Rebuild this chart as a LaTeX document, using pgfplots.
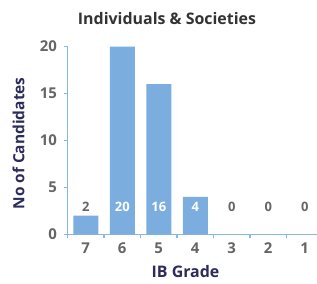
\documentclass[border=0pt]{standalone}
\usepackage{pgfplots}
\pgfplotsset{compat=1.18}
\usepackage{fontspec}
\setmainfont{Open Sans}
\definecolor{barblue}{HTML}{7BAEDE}
\definecolor{axblue}{HTML}{8AB8E4}
\definecolor{tickgray}{HTML}{666666}
\definecolor{navy}{HTML}{2C2C5C}
\definecolor{titlegray}{HTML}{333333}
\begin{document}
\begin{tikzpicture}[x=1bp,y=1bp]
\begin{axis}[
  at={(67.5bp,49.5bp)}, anchor=south west,
  scale only axis, width=255.5bp, height=188bp,
  xmin=-0.5, xmax=6.5, ymin=0, ymax=20,
  axis lines*=left,
  axis line style={axblue, line width=1.1pt},
  xtick={0,...,6}, xticklabels={7,6,5,4,3,2,1},
  minor xtick={-0.5,0.5,...,5.5},
  ytick={0,5,10,15,20},
  tick style={axblue, line width=1.1pt},
  major x tick style={draw=none},
  tick align=outside,
  major tick length=4bp, minor tick length=4bp,
  /pgf/number format/assume math mode=true,
  tick label style={font=\fontsize{15}{17}\selectfont\bfseries, text=tickgray},
  yticklabel style={xshift=-3bp},
  xticklabel style={yshift=-1bp},
  clip=false,
]
\addplot[ybar, bar width=25bp, fill=barblue, draw=none] coordinates {(0,2) (1,20) (2,16) (3,4) (4,0) (5,0) (6,0)};
\addplot[draw=none, mark=none, nodes near coords, point meta=explicit symbolic,
  nodes near coords style={anchor=center, text=white, font=\fontsize{13}{15}\selectfont\bfseries}]
  coordinates {(1,2.9)[20] (2,2.9)[16] (3,2.9)[4]};
\addplot[draw=none, mark=none, nodes near coords, point meta=explicit symbolic,
  nodes near coords style={anchor=center, text=tickgray, font=\fontsize{13}{15}\selectfont\bfseries}]
  coordinates {(0,2.9)[2] (4,2.9)[0] (5,2.9)[0] (6,2.9)[0]};
\end{axis}
\node[text=titlegray, font=\fontsize{16}{18}\selectfont\bfseries] at (167bp,265bp) {Individuals \& Societies};
\node[text=navy, font=\fontsize{15.5}{18}\selectfont\bfseries, rotate=90] at (18.5bp,140.5bp) {No of Candidates};
\node[text=navy, font=\fontsize{16}{18}\selectfont\bfseries] at (185.5bp,12.5bp) {IB Grade};
\pgfresetboundingbox
\path[use as bounding box] (0,0) rectangle (317bp,284bp);
\end{tikzpicture}
\end{document}
